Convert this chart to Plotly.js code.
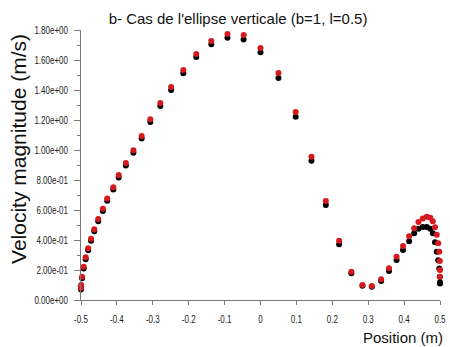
<!DOCTYPE html>
<html>
<head>
<meta charset="utf-8">
<script src="https://cdn.plot.ly/plotly-3.0.1.min.js"></script>
<style>
  html, body { margin: 0; padding: 0; background: #fff; }
  #chart { width: 450px; height: 347px; }
</style>
</head>
<body>
<div id="chart"></div>
<script>
// Sample positions along the probe line (m)
const position = [
  -0.5, -0.4995, -0.497, -0.4925, -0.487, -0.48, -0.472, -0.463, -0.452, -0.439,
  -0.427, -0.41, -0.395, -0.375, -0.354, -0.331, -0.307, -0.279, -0.249, -0.215,
  -0.179, -0.137, -0.092, -0.047, 0.0, 0.05, 0.098, 0.142, 0.182, 0.219,
  0.253, 0.284, 0.31, 0.336, 0.358, 0.379, 0.397, 0.414, 0.428, 0.44,
  0.452, 0.463, 0.473, 0.48, 0.486, 0.491, 0.495, 0.498, 0.4995, 0.5, 0.5
];

// Velocity magnitude (m/s), black series
const velocityBlack = [
  0.07, 0.09, 0.145, 0.21, 0.272, 0.332, 0.395, 0.458, 0.525, 0.593,
  0.662, 0.737, 0.817, 0.897, 0.982, 1.077, 1.187, 1.293, 1.4, 1.512,
  1.62, 1.705, 1.748, 1.737, 1.652, 1.48, 1.222, 0.929, 0.633, 0.371,
  0.178, 0.095, 0.088, 0.127, 0.193, 0.267, 0.333, 0.392, 0.445, 0.475,
  0.487, 0.487, 0.475, 0.445, 0.385, 0.322, 0.265, 0.21, 0.155, 0.118, 0.11
];

// Velocity magnitude (m/s), red series
const velocityRed = [
  0.08, 0.1, 0.155, 0.222, 0.285, 0.345, 0.408, 0.472, 0.54, 0.608,
  0.677, 0.752, 0.833, 0.913, 0.998, 1.093, 1.205, 1.313, 1.42, 1.533,
  1.64, 1.727, 1.773, 1.767, 1.68, 1.513, 1.253, 0.955, 0.66, 0.395,
  0.189, 0.1, 0.093, 0.138, 0.211, 0.289, 0.36, 0.425, 0.478, 0.52,
  0.544, 0.555, 0.549, 0.525, 0.485, 0.435, 0.378, 0.322, 0.26, 0.2, 0.155
];

const yTickVals = [0, 0.2, 0.4, 0.6, 0.8, 1.0, 1.2, 1.4, 1.6, 1.8];
const yTickText = ['0.00e+00', '2.00e-01', '4.00e-01', '6.00e-01', '8.00e-01',
                   '1.00e+00', '1.20e+00', '1.40e+00', '1.60e+00', '1.80e+00'];
const xTickVals = [-0.5, -0.4, -0.3, -0.2, -0.1, 0, 0.1, 0.2, 0.3, 0.4, 0.5];
const xTickText = ['-0.5', '-0.4', '-0.3', '-0.2', '-0.1', '0', '0.1', '0.2', '0.3', '0.4', '0.5'];

const tickFont = { family: '"Liberation Sans", Arial, sans-serif', size: 10, color: '#222' };

const traces = [
  {
    x: position, y: velocityBlack, type: 'scatter', mode: 'markers',
    marker: { color: '#000000', size: 6 }, cliponaxis: false, hoverinfo: 'x+y'
  },
  {
    x: position, y: velocityRed, type: 'scatter', mode: 'markers',
    marker: { color: '#d41a1f', size: 6 }, cliponaxis: false, hoverinfo: 'x+y'
  }
];

const layout = {
  width: 450, height: 347,
  margin: { l: 81, r: 10, t: 30, b: 47 },
  paper_bgcolor: '#ffffff', plot_bgcolor: '#ffffff',
  showlegend: false,
  font: { family: '"Liberation Sans", Arial, sans-serif', color: '#000' },
  title: {
    text: "b- Cas de l'ellipse verticale (b=1, l=0.5)",
    font: { size: 15, color: '#111' },
    xref: 'container', x: 0.529, xanchor: 'center',
    yref: 'container', y: 0.945, yanchor: 'middle'
  },
  xaxis: {
    range: [-0.5, 0.5],
    tickvals: xTickVals, ticktext: xTickText,
    ticks: 'outside', ticklen: 4, tickcolor: '#777', tickwidth: 1,
    showline: true, linecolor: '#777', linewidth: 1,
    showgrid: false, zeroline: false,
    tickfont: tickFont, ticklabelstandoff: 6,
    title: { text: 'Position (m)', font: { size: 15, color: '#111' }, standoff: 0 }
  },
  yaxis: {
    range: [0, 1.8],
    tickvals: yTickVals, ticktext: yTickText,
    ticks: 'outside', ticklen: 6, tickcolor: '#777', tickwidth: 1,
    minor: { dtick: 0.1, ticks: 'outside', ticklen: 3, tickcolor: '#777', showgrid: false },
    showline: true, linecolor: '#777', linewidth: 1,
    showgrid: false, zeroline: false,
    tickfont: tickFont, ticklabelstandoff: 4,
    title: { text: 'Velocity magnitude (m/s)', font: { size: 21, color: '#111' }, standoff: 6 }
  }
};

Plotly.newPlot('chart', traces, layout, { staticPlot: true, displayModeBar: false }).then(function () {
  const gd = document.getElementById('chart');

  // x-axis title sits at the right end, under the tick labels
  const xt = gd.querySelector('.g-xtitle text');
  if (xt) {
    xt.setAttribute('text-anchor', 'end');
    xt.setAttribute('x', 443);
    xt.setAttribute('y', 339);
  }

  // y-axis title: vertical, centred a little above the plot middle
  const yt = gd.querySelector('.g-ytitle text');
  if (yt) {
    const ax = 20, ay = 149;
    yt.setAttribute('x', ax);
    yt.setAttribute('y', ay);
    yt.setAttribute('transform', 'rotate(-90,' + ax + ',' + ay + ')');
  }

  // Condensed tick labels: squeeze horizontally about each label's anchor
  gd.querySelectorAll('.ytick text, .xtick text').forEach(function (t) {
    const x = parseFloat(t.getAttribute('x')) || 0;
    const tr = t.getAttribute('transform') || '';
    t.setAttribute('transform', tr + ' translate(' + x + ',0) scale(0.8,1) translate(' + (-x) + ',0)');
  });
});
</script>
</body>
</html>
